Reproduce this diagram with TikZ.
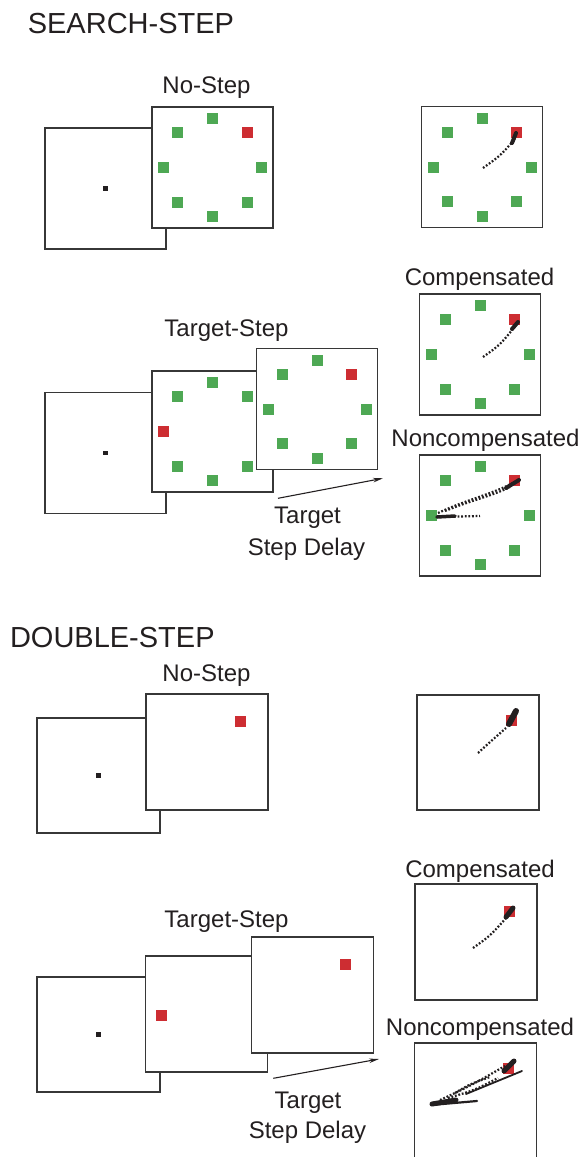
\documentclass[tikz,border=0pt]{standalone}
\usepackage{fontspec}
\setmainfont{Liberation Sans}
\usetikzlibrary{arrows.meta}
\definecolor{tgreen}{RGB}{78,168,84}
\definecolor{tred}{RGB}{205,45,50}
\definecolor{ink}{RGB}{35,31,32}
\definecolor{frame}{RGB}{55,55,55}
% eight targets round a screen, #2 = angle of the red one
\newcommand\searchring[2]{%
  \foreach \ang in {0,45,...,315}{%
    \ifnum\ang=#2 \def\sqcol{tred}\else\def\sqcol{tgreen}\fi
    \node[tsq,fill=\sqcol] (#1-\ang) at ([shift={(\ang:49pt)}]#1.center) {};
  }}
\begin{document}
\begin{tikzpicture}[x=1pt,y=-1pt,
  screen/.style={draw=frame,fill=white,line width=1.3pt,inner sep=0pt,minimum width=121pt,minimum height=121pt},
  dscreen/.style={screen,minimum width=122pt,minimum height=116pt},
  tsq/.style={inner sep=0pt,minimum size=11pt,fill=tgreen},
  fixdot/.style={inner sep=0pt,minimum size=4.5pt,fill=ink},
  heading/.style={inner sep=0pt,anchor=base west,text=ink,font=\fontsize{29}{34}\selectfont},
  lbl/.style={inner sep=0pt,anchor=base,text=ink,font=\fontsize{24}{28}\selectfont},
  traj/.style={ink,line width=2.2pt,dash pattern=on 1.8pt off 1.8pt},
  blob/.style={ink,line width=4pt,line cap=round},
  delayarrow/.style={ink,line width=1.1pt,-{Stealth[length=10pt,width=4.5pt]}}]
\useasboundingbox (0,0) rectangle (588,1157);

%---- SEARCH-STEP
\node[heading] (sstitle) at (27.6,33.5) {SEARCH-STEP};

% no-step
\node[lbl] (ssAlbl) at (206.5,93.3) {No-Step};
\node[screen] (ssAfix) at (105.5,188.5) {};
\node[fixdot] (ssAdot) at (ssAfix.center) {};
\node[screen] (ssAtgt) at (212.5,167.5) {};
\searchring{ssAtgt}{45}
\node[screen] (ssAres) at (482,167) {};
\searchring{ssAres}{45}
\draw[traj] (483,168) .. controls (500,156) .. (515,139);
\draw[blob] (512,143) -- (516,133);

% target-step
\node[lbl] (ssBlbl) at (226.5,336) {Target-Step};
\node[screen] (ssBfix) at (105.5,453) {};
\node[fixdot] (ssBdot) at (ssBfix.center) {};
\node[screen] (ssBone) at (212.5,431.5) {};
\searchring{ssBone}{180}
\node[screen] (ssBtwo) at (317,409) {};
\searchring{ssBtwo}{45}
\coordinate (ssBfrom) at (278,498.3);
\coordinate (ssBto) at (383,478.3);
\draw[delayarrow] (ssBfrom) -- (ssBto);
\node[lbl] (ssBdelay1) at (307.5,523.3) {Target};
\node[lbl] (ssBdelay2) at (306.5,555) {Step Delay};

% outcomes
\node[lbl] (ssClbl) at (479.5,285.3) {Compensated};
\node[screen] (ssCres) at (480,354.5) {};
\searchring{ssCres}{45}
\draw[traj] (483,357) .. controls (500,345) .. (517,324);
\draw[blob] (512,329) -- (518,322);

\node[lbl] (ssDlbl) at (485.5,446) {Noncompensated};
\node[screen] (ssDres) at (480,515.5) {};
\searchring{ssDres}{45}
\draw[traj] (436,517) -- (480,516);
\draw[blob,line width=3.5pt] (437,517) -- (455,516);
\draw[traj] (438,513) .. controls (470,498) and (495,494) .. (520,479);
\draw[traj] (445,511) .. controls (472,500) and (492,496) .. (510,487);
\draw[blob] (506,488) -- (519,480);

%---- DOUBLE-STEP
\node[heading] (dstitle) at (9.8,647.8) {DOUBLE-STEP};

% no-step
\node[lbl] (dsAlbl) at (206.5,681) {No-Step};
\node[dscreen,minimum width=123pt,minimum height=115pt] (dsAfix) at (98.5,775.5) {};
\node[fixdot] (dsAdot) at (dsAfix.center) {};
\node[dscreen] (dsAtgt) at (207,752) {};
\node[tsq,fill=tred] (dsAtgt-red) at ([shift={(33pt,31pt)}]dsAtgt.center) {};
\node[dscreen,minimum height=115pt] (dsAres) at (478,752.5) {};
\node[tsq,fill=tred] (dsAres-red) at ([shift={(33pt,32pt)}]dsAres.center) {};
\draw[traj] (478,753) .. controls (490,742) .. (506,728);
\draw[blob,line width=6pt] (509,724) -- (516,711);

% target-step
\node[lbl] (dsBlbl) at (226.5,927.7) {Target-Step};
\node[dscreen,minimum width=123pt,minimum height=115pt] (dsBfix) at (98.5,1034.5) {};
\node[fixdot] (dsBdot) at (dsBfix.center) {};
\node[dscreen] (dsBone) at (206.5,1014) {};
\node[tsq,fill=tred] (dsBone-red) at ([shift={(-45pt,-1.7pt)}]dsBone.center) {};
\node[dscreen] (dsBtwo) at (312.5,995) {};
\node[tsq,fill=tred] (dsBtwo-red) at ([shift={(33pt,31pt)}]dsBtwo.center) {};
\coordinate (dsBfrom) at (273.3,1078.3);
\coordinate (dsBto) at (379,1059);
\draw[delayarrow] (dsBfrom) -- (dsBto);
\node[lbl] (dsBdelay1) at (308,1108.3) {Target};
\node[lbl] (dsBdelay2) at (307.5,1138.3) {Step Delay};

% outcomes
\node[lbl] (dsClbl) at (480,877.7) {Compensated};
\node[dscreen] (dsCres) at (476,942) {};
\node[tsq,fill=tred] (dsCres-red) at ([shift={(33pt,31pt)}]dsCres.center) {};
\draw[traj] (473,948) .. controls (490,936) .. (507,917);
\draw[blob,line width=5pt] (506,917) -- (513,908);

\node[lbl] (dsDlbl) at (480,1035.7) {Noncompensated};
\node[dscreen,minimum height=120pt] (dsDres) at (475.5,1103) {};
\node[tsq,fill=tred] (dsDres-red) at ([shift={(32.5pt,35pt)}]dsDres.center) {};
\draw[traj] (440,1100) .. controls (470,1086) .. (505,1066);
\draw[traj] (448,1098) .. controls (475,1090) .. (498,1078);
\draw[traj] (455,1093) .. controls (470,1084) .. (490,1077);
\draw[ink,line width=1.8pt,line cap=round] (466,1094) -- (522,1071);
\draw[ink,line width=2.2pt,line cap=round] (431,1105) -- (477,1101);
\draw[blob,line width=5pt] (432,1104) -- (456,1100);
\draw[blob,line width=5pt] (504,1071) -- (514,1061);
\end{tikzpicture}
\end{document}
